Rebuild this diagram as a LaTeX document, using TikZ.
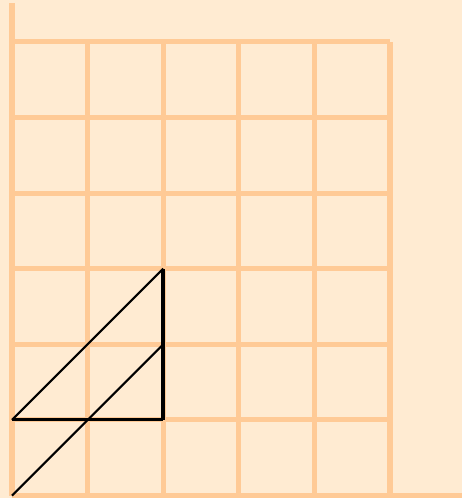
\documentclass[tikz,border=0pt]{standalone}
\usepackage{tikz}
\definecolor{bgc}{HTML}{FFEBD2}
\definecolor{gridc}{HTML}{FFCA96}
\tikzset{gridline/.style={draw=gridc,line width=1.9pt,line cap=butt},
  thinblack/.style={draw=black,line width=0.8pt},
  baseblack/.style={draw=black,line width=1.1pt},
  vertblack/.style={draw=black,line width=1.6pt}}
\begin{document}
\begin{tikzpicture}[x=1cm,y=1cm]
\fill[bgc] (-0.1587,-0.033) rectangle (5.952,6.554);
\useasboundingbox (-0.1587,-0.033) rectangle (5.952,6.554);
% grid
\foreach \i in {1,...,5} \draw[gridline] (\i,0) -- (\i,6);
\draw[gridline] (0,0) -- (0,6.52);
\foreach \j in {1,...,6} \draw[gridline] (0,\j) -- (5,\j);
\draw[gridline] (0,0) -- (5.96,0);
% figure
\coordinate (A) at (0,1);
\coordinate (B) at (2,1);
\coordinate (C) at (2,3);
\coordinate (O) at (0,0);
\coordinate (D) at (2,2);
\draw[thinblack] (A) -- (C);
\draw[thinblack] (O) -- (D);
\draw[baseblack] (A) -- (B);
\draw[vertblack] (B) -- (C);
\end{tikzpicture}
\end{document}
